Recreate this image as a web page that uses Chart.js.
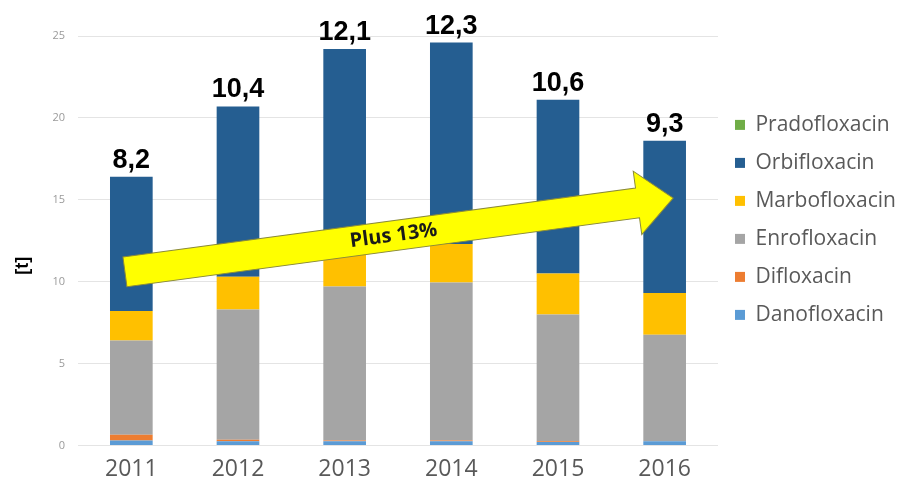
<!DOCTYPE html>
<html>
<head>
<meta charset="utf-8">
<script src="https://cdn.jsdelivr.net/npm/chart.js@4"></script>
<style>
  html, body { margin: 0; padding: 0; background: #fff; }
  #wrap { width: 912px; height: 493px; }
</style>
</head>
<body>
<div id="wrap"><canvas id="chart" width="912" height="493"></canvas></div>
<script>
const years = ['2011', '2012', '2013', '2014', '2015', '2016'];

// tonnes per substance, bottom of the stack first
const danofloxacin  = [0.30, 0.25, 0.25, 0.25, 0.20, 0.25];
const difloxacin    = [0.35, 0.10, 0.05, 0.05, 0.05, 0.00];
const enrofloxacin  = [5.75, 7.95, 9.40, 9.65, 7.75, 6.50];
const marbofloxacin = [1.80, 2.00, 2.40, 2.35, 2.50, 2.55];
const orbifloxacin  = [8.2, 10.4, 12.1, 12.3, 10.6, 9.3];
const pradofloxacin = [0, 0, 0, 0, 0, 0];

const yTicks = [0, 5, 10, 15, 20, 25];

// trend arrow, in category index / tonnes
const trendStart = { x: -0.06, y: 10.6 };
const trendEnd = { x: 5.08, y: 15.1 };
const trendText = 'Plus 13%';

const fmt = v => v.toFixed(1).replace('.', ',');

const series = [
  { label: 'Danofloxacin', data: danofloxacin, color: '#5b9bd5' },
  { label: 'Difloxacin', data: difloxacin, color: '#ed7d31' },
  { label: 'Enrofloxacin', data: enrofloxacin, color: '#a5a5a5' },
  { label: 'Marbofloxacin', data: marbofloxacin, color: '#ffc000' },
  { label: 'Orbifloxacin', data: orbifloxacin, color: '#255e91' },
  { label: 'Pradofloxacin', data: pradofloxacin, color: '#70ad47' }
];

// Orbifloxacin amount printed over each stack
const orbiLabels = {
  id: 'orbiLabels',
  afterDatasetsDraw(chart) {
    const { ctx, scales: { x, y } } = chart;
    ctx.save();
    ctx.font = 'bold 27px "Liberation Sans", Arial, sans-serif';
    ctx.fillStyle = '#000';
    ctx.textAlign = 'center';
    ctx.textBaseline = 'bottom';
    years.forEach((yr, i) => {
      const total = series.reduce((s, d) => s + d.data[i], 0);
      ctx.fillText(fmt(orbifloxacin[i]), x.getPixelForValue(i), y.getPixelForValue(total) - 3);
    });
    ctx.restore();
  }
};

// yellow arrow across the bars
const trendArrow = {
  id: 'trendArrow',
  afterDatasetsDraw(chart) {
    const { ctx, scales: { x, y } } = chart;
    const sx = x.getPixelForValue(trendStart.x), sy = y.getPixelForValue(trendStart.y);
    const tx = x.getPixelForValue(trendEnd.x), ty = y.getPixelForValue(trendEnd.y);
    const len = Math.hypot(tx - sx, ty - sy);
    const ang = Math.atan2(ty - sy, tx - sx);
    const shaft = 15, head = 32, headLen = 36;
    ctx.save();
    ctx.translate(sx, sy);
    ctx.rotate(ang);
    ctx.beginPath();
    ctx.moveTo(0, -shaft);
    ctx.lineTo(len - headLen, -shaft);
    ctx.lineTo(len - headLen, -head);
    ctx.lineTo(len, 0);
    ctx.lineTo(len - headLen, head);
    ctx.lineTo(len - headLen, shaft);
    ctx.lineTo(0, shaft);
    ctx.closePath();
    ctx.fillStyle = '#ffff00';
    ctx.fill();
    ctx.lineWidth = 1;
    ctx.strokeStyle = '#8a8a3a';
    ctx.stroke();
    ctx.font = 'bold 20px "Open Sans", sans-serif';
    ctx.fillStyle = '#1a1a1a';
    ctx.textAlign = 'center';
    ctx.textBaseline = 'middle';
    ctx.fillText(trendText, len * 0.49, 0);
    ctx.restore();
  }
};

new Chart(document.getElementById('chart'), {
  type: 'bar',
  data: {
    labels: years,
    datasets: series.map(s => ({
      label: s.label,
      data: s.data,
      backgroundColor: s.color,
      borderWidth: 0,
      barPercentage: 0.8,
      categoryPercentage: 0.5
    }))
  },
  options: {
    responsive: false,
    animation: false,
    layout: { padding: { top: 36, right: 6, bottom: 0, left: 0 } },
    plugins: {
      tooltip: { enabled: false },
      legend: {
        position: 'right',
        align: 'start',
        reverse: true,
        title: { display: true, text: '', padding: { top: 47, bottom: 0 } },
        labels: {
          boxWidth: 10,
          boxHeight: 10,
          padding: 17,
          color: '#595959',
          font: { family: '"Open Sans", sans-serif', size: 21 }
        }
      }
    },
    scales: {
      x: {
        stacked: true,
        grid: { display: false, drawTicks: false },
        border: { display: false },
        ticks: {
          color: '#595959',
          padding: 10,
          font: { family: '"Open Sans", sans-serif', size: 23 }
        }
      },
      y: {
        stacked: true,
        min: 0,
        max: 25,
        afterBuildTicks: axis => { axis.ticks = yTicks.map(v => ({ value: v })); },
        afterFit: axis => { axis.width = 78; },
        grid: { color: '#e4e4e4', drawTicks: false },
        border: { display: false },
        ticks: {
          color: '#9a9a9a',
          padding: 13,
          font: { family: '"Open Sans", sans-serif', size: 11 }
        },
        title: {
          display: true,
          text: '[t]          ',
          color: '#000',
          padding: { top: 12, bottom: 0 },
          font: { family: '"Liberation Sans", Arial, sans-serif', size: 18, weight: 'bold' }
        }
      }
    }
  },
  plugins: [trendArrow, orbiLabels]
});
</script>
</body>
</html>
